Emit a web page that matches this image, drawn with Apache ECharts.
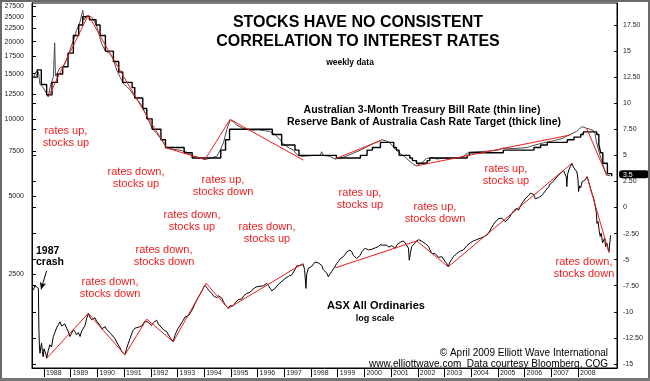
<!DOCTYPE html>
<html><head><meta charset="utf-8">
<script src="https://cdn.jsdelivr.net/npm/echarts@6/dist/echarts.min.js"></script>
<style>html,body{margin:0;padding:0;background:#fff}#c{width:650px;height:381px}</style>
</head><body><div id="c"></div>
<script>
// ---------- axis ticks ----------
const yearTicks = [1988,1989,1990,1991,1992,1993,1994,1995,1996,1997,1998,1999,2000,2001,2002,2003,2004,2005,2006,2007,2008];
const leftTickLabels = [2500,5000,7500,10000,12500,15000,17500,20000,22500,25000,27500];
const rightTickLabels = [-15,-12.5,-10,-7.5,-5,-2.5,0,2.5,5,7.5,10,12.5,15,17.5];
const leftMinorTicks = [-15,-12.5,-10,-7.5,-5,-2.5,0,2.5,5,7.5,10];
const lastRateText = '3.5';
const lastRateMarkerAt = 3.2;

// ---------- ASX All Ordinaries (weekly, log scale) ----------
const stockDates = [1987.60,1987.66,1987.73,1987.79,1987.81,1987.83,1987.85,1987.88,1987.91,1987.94,1987.97,1988.00,1988.04,1988.07,1988.10,1988.16,1988.22,1988.28,1988.35,1988.41,1988.48,1988.54,1988.60,1988.66,1988.72,1988.78,1988.85,1988.91,1988.97,1989.03,1989.10,1989.16,1989.22,1989.29,1989.35,1989.41,1989.48,1989.54,1989.60,1989.66,1989.72,1989.78,1989.85,1989.91,1989.97,1990.03,1990.10,1990.16,1990.22,1990.29,1990.35,1990.41,1990.47,1990.54,1990.60,1990.66,1990.72,1990.78,1990.85,1990.91,1990.97,1991.03,1991.09,1991.16,1991.22,1991.28,1991.34,1991.41,1991.47,1991.53,1991.60,1991.66,1991.72,1991.78,1991.85,1991.91,1991.97,1992.03,1992.10,1992.16,1992.22,1992.28,1992.35,1992.41,1992.47,1992.54,1992.60,1992.66,1992.72,1992.78,1992.84,1992.90,1992.97,1993.03,1993.10,1993.16,1993.22,1993.28,1993.35,1993.41,1993.47,1993.53,1993.60,1993.66,1993.72,1993.78,1993.84,1993.90,1993.96,1994.02,1994.07,1994.12,1994.17,1994.22,1994.28,1994.34,1994.40,1994.47,1994.53,1994.60,1994.66,1994.72,1994.78,1994.84,1994.90,1994.96,1995.03,1995.09,1995.16,1995.22,1995.28,1995.34,1995.41,1995.47,1995.53,1995.59,1995.66,1995.72,1995.78,1995.84,1995.91,1995.97,1996.03,1996.09,1996.16,1996.22,1996.28,1996.34,1996.41,1996.47,1996.53,1996.59,1996.66,1996.72,1996.78,1996.84,1996.91,1996.97,1997.03,1997.09,1997.16,1997.22,1997.28,1997.34,1997.40,1997.46,1997.52,1997.59,1997.65,1997.71,1997.76,1997.81,1997.84,1997.90,1997.96,1998.03,1998.09,1998.15,1998.21,1998.28,1998.34,1998.40,1998.46,1998.52,1998.59,1998.65,1998.71,1998.78,1998.84,1998.90,1998.96,1999.03,1999.09,1999.15,1999.21,1999.28,1999.34,1999.40,1999.46,1999.53,1999.59,1999.65,1999.71,1999.77,1999.84,1999.90,1999.96,2000.03,2000.08,2000.15,2000.22,2000.28,2000.34,2000.41,2000.47,2000.52,2000.59,2000.65,2000.71,2000.77,2000.83,2000.90,2000.96,2001.03,2001.09,2001.15,2001.22,2001.28,2001.34,2001.40,2001.46,2001.53,2001.59,2001.65,2001.68,2001.72,2001.77,2001.84,2001.90,2001.96,2002.03,2002.09,2002.15,2002.21,2002.28,2002.34,2002.40,2002.46,2002.53,2002.59,2002.65,2002.71,2002.78,2002.84,2002.90,2002.96,2003.02,2003.08,2003.14,2003.20,2003.27,2003.33,2003.40,2003.46,2003.53,2003.59,2003.65,2003.70,2003.77,2003.84,2003.90,2003.96,2004.02,2004.08,2004.15,2004.21,2004.27,2004.33,2004.40,2004.46,2004.52,2004.58,2004.65,2004.71,2004.77,2004.84,2004.90,2004.96,2005.02,2005.09,2005.15,2005.21,2005.27,2005.33,2005.40,2005.46,2005.52,2005.59,2005.65,2005.71,2005.77,2005.83,2005.90,2005.96,2006.02,2006.08,2006.15,2006.21,2006.27,2006.33,2006.40,2006.46,2006.52,2006.58,2006.65,2006.71,2006.77,2006.83,2006.90,2006.96,2007.02,2007.09,2007.15,2007.21,2007.27,2007.34,2007.40,2007.46,2007.52,2007.56,2007.58,2007.61,2007.67,2007.72,2007.77,2007.83,2007.90,2007.96,2008.00,2008.02,2008.06,2008.10,2008.15,2008.21,2008.27,2008.34,2008.40,2008.46,2008.52,2008.58,2008.65,2008.69,2008.71,2008.75,2008.79,2008.83,2008.87,2008.92,2008.96,2009.00,2009.03,2009.08,2009.12,2009.16,2009.19,2009.22];
const stockValues = [2167,2250,2230,2198,1516,1300,1230,1300,1345,1250,1191,1280,1301,1220,1176,1260,1327,1300,1429,1480,1552,1590,1630,1570,1579,1600,1539,1490,1429,1470,1520,1491,1450,1480,1429,1500,1540,1579,1680,1757,1700,1660,1654,1690,1640,1630,1580,1530,1511,1560,1520,1539,1480,1450,1429,1400,1360,1327,1290,1250,1230,1213,1280,1345,1400,1460,1511,1540,1520,1552,1580,1570,1606,1640,1669,1620,1600,1579,1620,1640,1654,1600,1570,1552,1520,1500,1491,1450,1420,1390,1364,1440,1500,1539,1580,1620,1654,1700,1690,1720,1732,1800,1860,1920,1972,2030,2080,2133,2200,2260,2300,2200,2160,2133,2100,2060,2042,2020,2060,2030,2013,1950,1900,1870,1838,1880,1900,1880,1930,1954,1990,2020,2000,2050,2080,2101,2080,2120,2150,2190,2210,2230,2260,2240,2270,2250,2290,2300,2250,2200,2150,2133,2200,2230,2280,2320,2340,2367,2400,2420,2450,2430,2480,2515,2600,2685,2650,2700,2667,2720,2600,2198,2500,2630,2600,2680,2720,2780,2829,2760,2750,2700,2600,2560,2520,2440,2500,2560,2620,2667,2740,2800,2860,2900,2919,2980,3050,3000,3097,3040,2950,2900,2870,2829,2950,3050,3100,3150,3192,3100,3150,3120,3080,3160,3210,3192,3250,3280,3230,3200,3242,3180,3150,3220,3200,3144,3250,3300,3320,3340,3361,3300,3250,3150,2829,3000,3192,3250,3320,3361,3400,3380,3350,3308,3280,3250,3200,3097,3000,3050,3000,2957,2900,2950,2920,2870,2800,2750,2667,2780,2850,2919,2950,3000,3030,3070,3050,3097,3150,3220,3260,3300,3340,3361,3380,3400,3420,3440,3450,3480,3510,3534,3600,3700,3800,3900,3980,4041,4100,4080,4120,4050,3990,3990,4100,4200,4300,4400,4450,4500,4420,4560,4700,4800,4900,4950,5050,5150,5227,5100,4900,4847,4950,5000,5050,5150,5250,5300,5450,5600,5700,5750,5850,5968,6050,6150,6250,6302,6200,5950,5464,6100,6400,6550,6730,6500,6400,6229,5800,5227,5500,5400,5700,5641,5800,5968,5700,5400,5143,4950,4560,4300,3929,4000,3700,3499,3600,3300,3387,3450,3192,3300,3150,3055,3300,3534];

// ---------- Australian 3-Month Treasury Bill Rate (thin line) ----------
const billDates = [1987.60,1987.70,1987.79,1987.85,1987.97,1988.08,1988.16,1988.25,1988.35,1988.40,1988.43,1988.50,1988.60,1988.72,1988.85,1988.97,1989.10,1989.22,1989.35,1989.45,1989.50,1989.60,1989.66,1989.75,1989.85,1989.91,1990.00,1990.08,1990.16,1990.30,1990.47,1990.60,1990.72,1990.85,1991.00,1991.10,1991.22,1991.40,1991.60,1991.75,1991.91,1992.05,1992.22,1992.40,1992.60,1992.80,1993.09,1993.35,1993.59,1993.80,1994.03,1994.30,1994.47,1994.60,1994.72,1994.85,1994.97,1995.10,1995.22,1995.45,1995.72,1996.00,1996.30,1996.46,1996.65,1996.84,1997.00,1997.20,1997.34,1997.50,1997.65,1997.90,1998.10,1998.34,1998.40,1998.45,1998.71,1998.90,1999.20,1999.58,1999.85,2000.08,2000.30,2000.50,2000.65,2000.80,2000.96,2001.15,2001.33,2001.50,2001.71,2001.85,2001.96,2002.15,2002.33,2002.50,2002.71,2003.00,2003.33,2003.50,2003.70,2003.90,2004.20,2004.60,2005.00,2005.20,2005.60,2006.08,2006.40,2006.70,2007.07,2007.40,2007.70,2007.95,2008.14,2008.32,2008.57,2008.63,2008.69,2008.80,2008.88,2009.00,2009.07,2009.20];
const billRates = [12.4,13.0,13.0,11.8,11.5,11.0,10.6,11.8,12.5,15.8,12.6,12.9,13.4,13.5,14.2,15.1,16.0,17.0,17.8,18.9,18.0,18.4,18.5,18.3,18.1,18.0,17.2,16.4,15.7,15.0,14.8,14.2,13.2,12.5,11.8,11.6,11.3,10.6,10.0,9.3,8.4,7.6,7.1,6.5,5.7,5.6,5.5,5.3,4.9,4.8,4.6,4.8,4.9,5.5,6.2,7.5,8.4,8.2,7.9,7.6,7.4,7.45,7.35,7.3,7.0,6.5,6.0,5.7,5.5,5.0,4.9,4.95,5.0,5.0,5.35,5.0,4.9,4.65,4.8,5.2,5.5,5.8,6.1,6.3,6.5,6.4,6.2,5.6,5.2,4.9,4.4,4.1,4.0,4.3,4.7,4.8,4.65,4.75,4.7,4.75,4.9,5.3,5.35,5.4,5.5,5.7,5.65,5.75,6.0,6.2,6.4,6.6,7.0,7.3,7.75,7.6,7.4,7.2,6.3,5.2,4.55,3.6,3.1,3.05];

// ---------- Reserve Bank of Australia Cash Rate Target (thick line) ----------
const cashDates = [1987.60,1987.75,1987.90,1988.10,1988.30,1988.50,1988.70,1988.90,1989.10,1989.30,1989.45,1989.70,1989.95,1990.10,1990.30,1990.60,1990.80,1990.95,1991.30,1991.40,1991.70,1991.85,1992.05,1992.38,1992.55,1993.25,1993.55,1994.62,1994.80,1994.95,1996.55,1996.90,1997.40,1997.55,1998.95,1999.85,2000.10,2000.30,2000.60,2001.10,2001.20,2001.30,2001.70,2001.80,2001.95,2002.35,2002.45,2003.85,2003.93,2005.20,2006.35,2006.60,2006.85,2007.60,2007.85,2008.10,2008.20,2008.70,2008.78,2008.85,2008.93,2009.10,2009.26];
const cashRates = [12.5,13.2,11.8,10.8,12.0,12.8,13.5,14.8,16.5,17.5,18.3,18.0,17.5,16.5,15.0,14.0,13.0,12.0,11.5,10.5,9.5,8.5,7.5,6.5,5.75,5.25,4.75,5.5,6.5,7.5,7.0,6.0,5.5,5.0,4.75,5.0,5.5,5.75,6.25,5.75,5.5,5.0,4.75,4.5,4.25,4.5,4.75,5.0,5.25,5.5,5.75,6.0,6.25,6.5,6.75,7.0,7.25,7.0,6.0,5.25,4.25,3.25,3.0];

// ---------- red trend lines (null = break) ----------
const rateTrendDates = [1988.16,1989.66,1990.47,1991.72,1992.60,1994.03,1994.97,1997.71,null,1998.90,2000.65,null,2001.96,2007.70,null,2008.32,2009.07];
const rateTrendValues = [10.6,18.46,14.8,9.35,5.7,4.6,8.45,4.55,null,4.65,6.47,null,4.0,6.95,null,7.6,3.1];
const stockTrendDates = [1988.10,1989.66,1991.03,1991.85,1992.84,1994.07,1994.90,1997.71,null,1998.90,2001.96,2003.14,2007.77,null,2008.34,2009.16];
const stockTrendValues = [1176,1757,1213,1669,1364,2300,1838,2750,null,2640,3361,2667,6730,null,5968,3020];

// ---------- annotations ----------
const notes = [
  {t:'rates up,\nstocks up', x:66, y:137},
  {t:'rates down,\nstocks up', x:136, y:178},
  {t:'rates up,\nstocks down', x:223, y:186},
  {t:'rates down,\nstocks up', x:192, y:221},
  {t:'rates down,\nstocks down', x:164, y:256},
  {t:'rates down,\nstocks up', x:267, y:233},
  {t:'rates down,\nstocks down', x:110, y:288},
  {t:'rates up,\nstocks up', x:360, y:199},
  {t:'rates up,\nstocks down', x:435, y:213},
  {t:'rates up,\nstocks up', x:506, y:175},
  {t:'rates down,\nstocks down', x:584, y:268}
];

const FONT = '"Liberation Sans", Arial, Helvetica, sans-serif';
const RED = '#f01c1c';

function zip(xs, ys){ return xs.map((x,i)=>[x, ys[i]]); }
function segments(xs, ys){
  const out=[]; let cur=[];
  xs.forEach((x,i)=>{ if(x===null||ys[i]===null){ if(cur.length) out.push(cur); cur=[]; } else cur.push([x,ys[i]]); });
  if(cur.length) out.push(cur);
  return out;
}

const LOGMIN = 1078, LOGMAX = 28245;
const chart = echarts.init(document.getElementById('c'), null, {renderer:'canvas'});

const series = [];
segments(rateTrendDates, rateTrendValues).forEach(seg=>series.push({
  type:'line', xAxisIndex:0, yAxisIndex:2, data:seg, showSymbol:false, silent:true,
  lineStyle:{color:RED, width:1}, z:4
}));
segments(stockTrendDates, stockTrendValues).forEach(seg=>series.push({
  type:'line', xAxisIndex:0, yAxisIndex:0, data:seg, showSymbol:false, silent:true,
  lineStyle:{color:RED, width:1}, z:4
}));
series.push({
  type:'line', name:'T-bill', xAxisIndex:0, yAxisIndex:2, data:zip(billDates,billRates),
  showSymbol:false, silent:true, lineStyle:{color:'#4a4a4a', width:1}, z:3
});
series.push({
  type:'line', name:'Cash', xAxisIndex:0, yAxisIndex:2, data:zip(cashDates,cashRates), step:'end',
  showSymbol:false, silent:true, lineStyle:{color:'#000', width:1.4}, z:3
});
series.push({
  type:'line', name:'ASX', xAxisIndex:0, yAxisIndex:0, data:zip(stockDates,stockValues),
  showSymbol:false, silent:true, lineStyle:{color:'#000', width:1}, z:3,
  markLine:{
    silent:true, symbol:['none','arrow'], symbolSize:[5,7],
    lineStyle:{color:'#000', width:1, type:'solid'}, label:{show:false},
    data:[[{coord:[1988.10,2575]},{coord:[1987.89,2180]}]]
  }
});

const graphics = [
  {type:'rect', shape:{x:1,y:1,width:648,height:378}, style:{fill:'none', stroke:'#6a6a6a', lineWidth:2}, z:100},
  {type:'rect', shape:{x:0,y:378,width:650,height:3}, style:{fill:'#777'}, z:100},
  {type:'text', x:358, y:23, style:{text:'STOCKS HAVE NO CONSISTENT', font:'bold 16px '+FONT, fill:'#000', align:'center', verticalAlign:'middle'}},
  {type:'text', x:358, y:41.5, style:{text:'CORRELATION TO INTEREST RATES', font:'bold 16px '+FONT, fill:'#000', align:'center', verticalAlign:'middle'}},
  {type:'text', x:350, y:63, style:{text:'weekly data', font:'bold 8.5px '+FONT, fill:'#000', align:'center', verticalAlign:'middle'}},
  {type:'text', x:422, y:110, style:{text:'Australian 3-Month Treasury Bill Rate (thin line)', font:'bold 10.5px '+FONT, fill:'#000', align:'center', verticalAlign:'middle'}},
  {type:'text', x:424, y:121.7, style:{text:'Reserve Bank of Australia Cash Rate Target (thick line)', font:'bold 10.5px '+FONT, fill:'#000', align:'center', verticalAlign:'middle'}},
  {type:'text', x:376, y:305.5, style:{text:'ASX All Ordinaries', font:'bold 11px '+FONT, fill:'#000', align:'center', verticalAlign:'middle'}},
  {type:'text', x:375, y:318.3, style:{text:'log scale', font:'bold 9px '+FONT, fill:'#000', align:'center', verticalAlign:'middle'}},
  {type:'text', x:36, y:256.5, style:{text:'1987\ncrash', font:'bold 10.5px '+FONT, lineHeight:11.6, fill:'#000', align:'left', verticalAlign:'middle'}},
  {type:'text', x:608, y:353, style:{text:'\u00A9 April 2009 Elliott Wave International', font:'10px '+FONT, fill:'#000', align:'right', verticalAlign:'middle'}},
  {type:'text', x:608, y:364, style:{text:'www.elliottwave.com  Data courtesy Bloomberg, CQG', font:'10px '+FONT, fill:'#000', align:'right', verticalAlign:'middle'}}
];
notes.forEach(n=>graphics.push({type:'text', x:n.x, y:n.y, z:50,
  style:{text:n.t, font:'11px '+FONT, lineHeight:11.6, fill:RED, align:'center', verticalAlign:'middle'}}));

chart.setOption({
  animation:false,
  backgroundColor:'#fff',
  textStyle:{fontFamily:FONT},
  grid:{left:32, right:33, top:3, bottom:13, show:true, borderColor:'#000', borderWidth:1, backgroundColor:'transparent'},
  xAxis:[{
    type:'value', min:1987.551, max:2009.46, position:'bottom',
    axisLine:{show:true, onZero:false, lineStyle:{color:'#000', width:1}},
    splitLine:{show:false},
    axisTick:{show:true, customValues:yearTicks, length:9, inside:false, lineStyle:{color:'#000', width:1}},
    axisLabel:{show:true, customValues:yearTicks, formatter:v=>String(Math.round(v)), align:'left', padding:[0,0,0,2], margin:2, fontSize:7, color:'#222'}
  }],
  yAxis:[
    { // 0: log scale for the ASX index (drawing only)
      type:'log', logBase:10, min:LOGMIN, max:LOGMAX, position:'left',
      axisLine:{show:false, onZero:false}, axisTick:{show:false}, axisLabel:{show:false}, splitLine:{show:false}
    },
    { // 1: labels for the log scale (natural log positions)
      type:'value', min:Math.log(LOGMIN), max:Math.log(LOGMAX), position:'left',
      axisLine:{show:true, onZero:false, lineStyle:{color:'#000'}}, splitLine:{show:false},
      axisTick:{show:true, inside:true, length:4, customValues:leftTickLabels.map(v=>Math.log(v)), lineStyle:{color:'#000'}},
      axisLabel:{show:true, customValues:leftTickLabels.map(v=>Math.log(v)), formatter:v=>String(Math.round(Math.exp(v))), margin:8, fontSize:7, color:'#222'}
    },
    { // 2: interest rates (right)
      type:'value', min:-15.39, max:19.61, position:'right',
      axisLine:{show:true, onZero:false, lineStyle:{color:'#000'}}, splitLine:{show:false},
      axisTick:{show:true, inside:true, length:3, customValues:rightTickLabels, lineStyle:{color:'#000'}},
      axisLabel:{show:true, customValues:rightTickLabels, margin:6, fontSize:7, color:'#222',
        formatter:v=>(Math.abs(v-Math.round(v))<1e-9 ? String(Math.round(v)) : v.toFixed(2))},
      axisPointer:{show:true, type:'none', value:lastRateMarkerAt, status:'show', snap:false, triggerTooltip:false,
        label:{show:true, formatter:()=>lastRateText, backgroundColor:'#000', color:'#fff', fontSize:7, padding:[1,16,0,4], margin:2, borderWidth:0, shadowBlur:0}}
    },
    { // 3: minor ticks on the left edge at rate-scale positions
      type:'value', min:-15.39, max:19.61, position:'left',
      axisLine:{show:false, onZero:false}, splitLine:{show:false}, axisLabel:{show:false},
      axisTick:{show:true, inside:true, length:4, customValues:leftMinorTicks, lineStyle:{color:'#000'}}
    }
  ],
  series:series,
  graphic:graphics
});
</script>
</body></html>
